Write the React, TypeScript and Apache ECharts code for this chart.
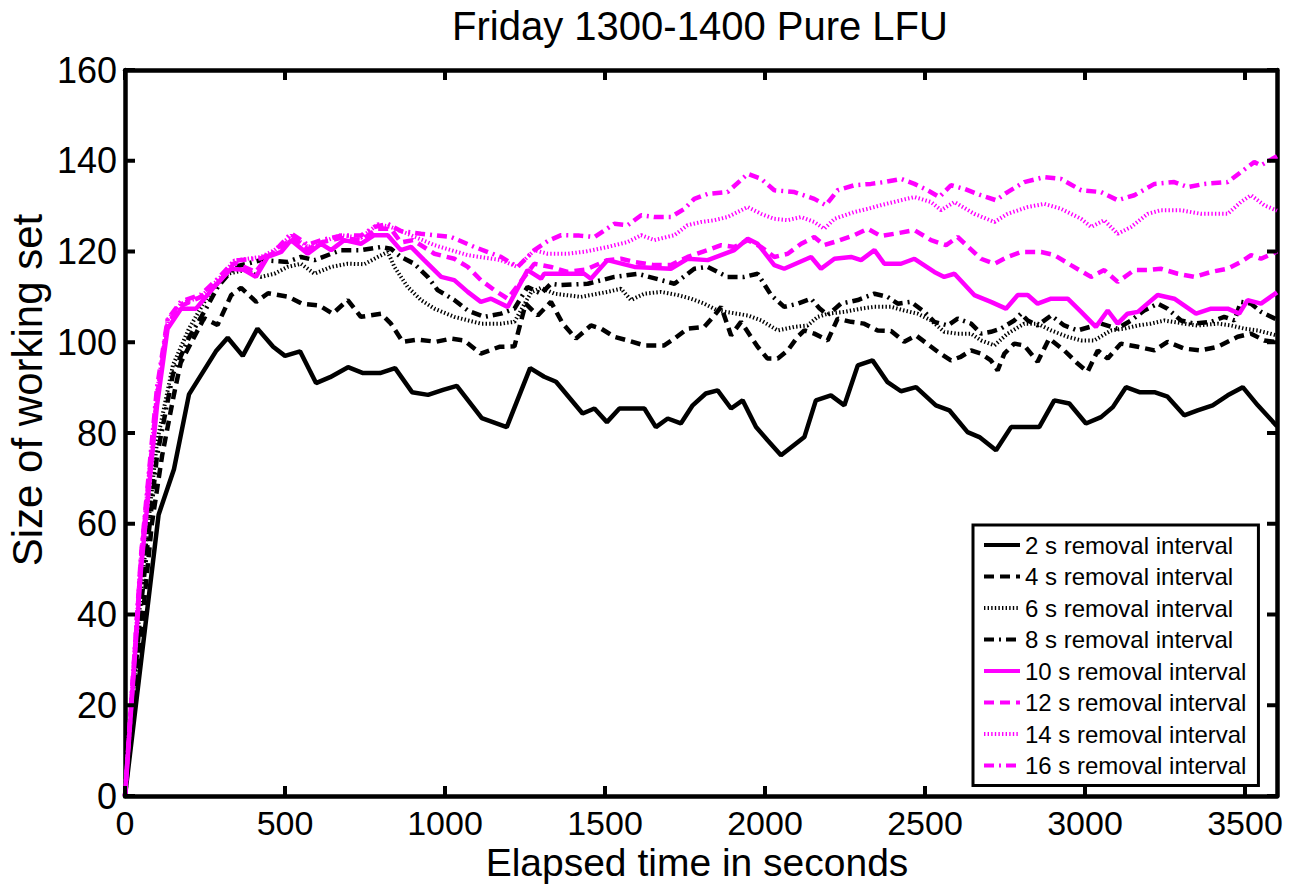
import React, { useEffect, useRef } from "react";
import * as echarts from "echarts";

const FONT = "'Liberation Sans', Arial, Helvetica, sans-serif";

const seriesNames = [
  "2 s removal interval",
  "4 s removal interval",
  "6 s removal interval",
  "8 s removal interval",
  "10 s removal interval",
  "12 s removal interval",
  "14 s removal interval",
  "16 s removal interval",
];

const xTicks = [0, 500, 1000, 1500, 2000, 2500, 3000, 3500];
const yTicks = [0, 20, 40, 60, 80, 100, 120, 140, 160];
const X_MAX = 3600;
const Y_MAX = 160;

const s2 = [[0,0],[105,62],[153,72],[200,88.5],[284,98],[321,101],[368,97],[414,103],[463,99],[500,97],[547,98],[597,91],[641,92.3],[697,94.5],[744,93.2],[797,93.2],[844,94.3],[897,89],[947,88.4],[994,89.5],[1037,90.4],[1115,83.3],[1193,81.3],[1266,94.3],[1310,92.4],[1347,91.3],[1430,84.3],[1467,85.4],[1506,82.4],[1545,85.4],[1623,85.4],[1659,81.3],[1696,83.2],[1737,82.1],[1774,86.1],[1815,88.7],[1852,89.4],[1894,85.4],[1930,87.2],[1972,81.3],[2008,78.4],[2050,75.1],[2123,79.1],[2159,87.2],[2206,88.3],[2248,86.1],[2290,94.9],[2336,96],[2383,91.2],[2425,89.2],[2472,90.1],[2534,86.1],[2576,85],[2633,80.2],[2670,79.1],[2722,76.2],[2769,81.3],[2857,81.3],[2904,87.2],[2951,86.5],[3003,82.1],[3050,83.5],[3087,85.7],[3128,90.1],[3170,89],[3217,89],[3258,88],[3310,83.9],[3352,85],[3399,86.1],[3446,88.3],[3493,90.1],[3540,86.1],[3600,81.5]];

const s4 = [[0,0],[84,60],[116,75],[153,88.5],[174,95.5],[247,105.3],[289,103.8],[332,110.4],[363,112],[410,108.9],[447,110.8],[511,110],[553,108.5],[607,108.1],[649,106.3],[696,109.3],[737,105.6],[800,106.3],[831,104.1],[868,100.1],[915,100.6],[972,100.1],[1019,100.8],[1060,100.4],[1112,97.5],[1170,99],[1217,99.1],[1252,108.5],[1290,105.9],[1331,108.9],[1368,104.1],[1409,100.8],[1456,103.7],[1488,103],[1529,101.2],[1571,100.4],[1623,99.3],[1685,99.3],[1717,100.8],[1758,103],[1810,103.4],[1842,105.9],[1863,107.8],[1894,101.5],[1925,104.5],[1977,99],[2008,96.4],[2040,96.4],[2071,98.2],[2102,101.2],[2123,102.6],[2154,101.9],[2196,100.4],[2227,105.2],[2269,104.5],[2310,104.1],[2352,102.6],[2394,102.5],[2435,100.1],[2472,101.5],[2540,97.9],[2581,96],[2612,96.8],[2644,98.2],[2675,97.5],[2706,96],[2727,93.8],[2748,97.5],[2779,99.7],[2810,99.3],[2852,95.7],[2888,100.8],[2935,98.2],[2977,95.3],[3008,93.5],[3040,98.2],[3071,96.4],[3112,99.7],[3165,99],[3217,98.2],[3258,100.1],[3310,98.6],[3362,98.2],[3415,99],[3477,101.2],[3519,101.9],[3560,100.4],[3600,100]];

const s6 = [[0,0],[50,45],[100,78],[150,95],[200,103],[269,111.5],[321,115.1],[373,115.9],[425,114.4],[467,115.1],[508,116.6],[550,117.3],[592,115.1],[644,116.6],[696,117.3],[748,117.2],[790,118.8],[821,119.9],[842,116.6],[883,112.2],[925,109.3],[967,107.4],[1029,105.6],[1112,104.1],[1175,104.1],[1217,104.5],[1269,111],[1300,112],[1342,110.7],[1425,110],[1508,111.1],[1550,111.8],[1581,109.3],[1623,110.7],[1675,111.1],[1727,110.4],[1769,109.6],[1810,108.5],[1852,107],[1946,105.9],[1988,104.8],[2040,102.6],[2092,103.4],[2133,103.7],[2165,105.6],[2196,106.3],[2248,106.7],[2300,107.4],[2342,107.8],[2394,107.8],[2435,107],[2477,106.3],[2519,104.8],[2560,102.3],[2602,101.9],[2644,101.9],[2675,100.4],[2717,99.3],[2758,101.9],[2810,104.1],[2852,104.1],[2894,102.6],[2946,101.2],[2988,100.4],[3029,100.4],[3081,102.6],[3123,103],[3165,103.7],[3206,104.1],[3248,104.8],[3310,104.1],[3352,103.7],[3415,104.1],[3456,103.7],[3498,103],[3540,102.6],[3600,101.5]];

const s8 = [[0,0],[50,42],[100,75],[150,93],[200,101],[250,107],[290,112.2],[342,116.6],[425,118.1],[508,117.7],[550,118.8],[592,118.1],[675,120.3],[737,120.3],[800,121],[831,120.6],[862,118.8],[904,117.3],[946,114.4],[977,111.5],[1029,109.3],[1071,107],[1123,105.6],[1175,106.3],[1217,107.4],[1258,112.2],[1300,110.7],[1331,112.9],[1363,112.6],[1446,112.9],[1529,114.4],[1602,115.1],[1675,113.7],[1717,112.9],[1779,116.2],[1821,116.6],[1883,114.4],[1935,114.4],[1977,115.1],[2019,110.4],[2060,107.8],[2102,108.5],[2144,109.6],[2170,107.5],[2196,106],[2237,108.5],[2290,109.3],[2342,110.7],[2383,110],[2415,108.5],[2456,108.9],[2498,106.7],[2529,104.5],[2571,103.7],[2602,105.2],[2644,104.1],[2675,101.9],[2706,102.3],[2737,103],[2779,104.8],[2800,106.3],[2821,104.8],[2852,103.7],[2894,105.9],[2935,103.7],[2977,102.6],[3050,104.1],[3100,103],[3144,104.8],[3185,107],[3227,108.5],[3258,107.4],[3300,104.8],[3342,104.1],[3394,104.5],[3435,105.6],[3467,104.8],[3487,108.9],[3519,108.5],[3550,106.7],[3600,105]];

const s10 = [[0,0],[50,50],[100,86],[133,103],[175,107.4],[222,107.4],[279,112.2],[331,116.2],[370,116],[409,114.4],[446,118.8],[488,119.9],[519,122.5],[571,119.5],[613,121.7],[644,120.3],[685,122.5],[737,121.7],[779,123.6],[821,123.6],[862,120.3],[894,121],[935,118.1],[988,114.4],[1029,113.7],[1071,111.1],[1112,108.9],[1144,109.6],[1196,107.8],[1258,115.9],[1300,114],[1310,115.1],[1435,115.1],[1456,114],[1508,118.1],[1592,116.6],[1706,116.2],[1758,118.4],[1821,118.1],[1904,120.3],[1946,122.8],[1977,121.7],[2029,117],[2060,116.2],[2144,118.8],[2175,116.2],[2217,118.4],[2269,118.8],[2300,118.1],[2342,120.3],[2373,117.3],[2425,117.3],[2467,118.4],[2529,115.5],[2560,114.4],[2592,115.1],[2654,110.4],[2706,108.9],[2753,107.4],[2790,110.4],[2821,110.4],[2852,108.5],[2894,109.6],[2946,109.6],[2988,106.7],[3034,103.4],[3071,107],[3102,104.1],[3133,106.3],[3165,106.7],[3227,110.4],[3279,109.6],[3347,106.3],[3394,107.4],[3446,107.4],[3482,106.3],[3508,109.3],[3550,108.5],[3600,111]];

const s12 = [[0,0],[50,52],[100,88],[133,104],[175,108],[237,110],[290,113],[342,117.5],[409,115.5],[446,119],[488,120.5],[519,123],[571,120.5],[613,122],[675,123],[737,122.5],[790,125],[831,125],[862,122],[900,122.5],[967,119.5],[1029,118.4],[1071,116.6],[1112,113.7],[1154,111.5],[1196,109.6],[1248,114.4],[1279,117.3],[1331,116.6],[1383,115.5],[1440,116],[1508,118.1],[1550,118.4],[1592,117.7],[1654,117],[1706,117],[1758,118.8],[1821,120.3],[1863,121.4],[1904,121],[1946,122.5],[1988,121],[2029,118.8],[2071,119.5],[2113,121.7],[2154,123.2],[2185,121.4],[2217,122.1],[2279,123.6],[2321,125],[2362,123.4],[2404,123.9],[2467,124.7],[2519,122.5],[2566,121.4],[2602,123.2],[2675,118.4],[2717,117.3],[2758,118.8],[2800,119.9],[2863,119.9],[2904,119.2],[2956,117],[3019,114.4],[3060,115.9],[3102,113.3],[3154,115.9],[3196,115.9],[3237,116.2],[3290,115.1],[3342,114.4],[3394,115.5],[3446,116.2],[3487,117.7],[3519,119.2],[3550,118.4],[3600,120]];

const s14 = [[0,0],[50,53],[100,89],[133,105],[175,108.5],[237,110],[290,113.7],[342,118],[425,118.8],[467,120.3],[519,123.5],[571,121],[613,122],[675,123.6],[737,123],[790,126],[831,125.4],[880,124],[967,121.4],[1071,119.2],[1175,118.1],[1227,116.6],[1279,120.3],[1321,119.5],[1383,119.5],[1440,120],[1508,121],[1571,122.1],[1613,123.6],[1654,122.5],[1717,123.6],[1758,125.8],[1800,126.5],[1842,126.9],[1883,127.6],[1946,129.8],[1988,128.3],[2029,127.2],[2071,126.9],[2113,127.6],[2154,126.5],[2185,125],[2217,127.2],[2279,128.7],[2321,129.4],[2362,130.2],[2425,131.3],[2467,132],[2519,130.9],[2550,129.1],[2592,130.9],[2654,128.3],[2717,126.5],[2758,128.3],[2821,129.8],[2873,130.5],[2925,129.4],[2988,127.2],[3019,125.4],[3060,126.9],[3102,123.9],[3144,125.4],[3196,128.3],[3237,129.1],[3300,129.1],[3362,128.3],[3446,128.3],[3487,130.9],[3519,132.4],[3560,130.2],[3600,129]];

const s16 = [[0,0],[50,53],[100,90],[133,105],[175,109],[237,110.5],[290,114],[342,118],[425,118.5],[467,120],[519,124],[571,121.5],[613,122.5],[675,123.5],[737,123.5],[779,125.4],[821,126.1],[862,124.5],[925,123.9],[1019,123.2],[1092,121],[1175,118.8],[1227,116.6],[1279,120.3],[1321,122.3],[1363,123.6],[1420,123.5],[1467,123.2],[1529,126.1],[1571,125.8],[1613,128],[1654,127.6],[1706,127.6],[1748,129.4],[1779,131.6],[1821,132.7],[1883,133.1],[1946,137.1],[1988,136],[2029,133.5],[2092,133.1],[2154,131.6],[2190,130.2],[2227,133.5],[2279,134.6],[2331,134.9],[2373,135.3],[2425,136],[2467,134.9],[2508,133.5],[2545,132],[2581,134.6],[2623,133.8],[2675,132.4],[2722,131.3],[2758,133.1],[2810,135.3],[2873,136.4],[2925,136],[2988,133.5],[3050,133.1],[3102,131.3],[3154,132.4],[3217,134.9],[3279,135.3],[3321,134.2],[3373,134.9],[3446,135.3],[3487,137.5],[3529,139.7],[3550,139],[3600,141]];

const seriesData = [s2, s4, s6, s8, s10, s12, s14, s16];
const seriesColors = ["#000000","#000000","#000000","#000000","#ff00ff","#ff00ff","#ff00ff","#ff00ff"];
const seriesDash: any[] = ["solid", [10, 6], [1.4, 2.2], [10, 5, 2, 5], "solid", [10, 6], [1.4, 2.2], [10, 5, 2, 5]];
const seriesWidth = [4.5, 4.5, 4, 4.5, 4.5, 4.5, 4, 4.5];

const TICK_LEN = 10;

function makeLine() {
  return { show: true, onZero: false, lineStyle: { color: "#000", width: 4.5 } };
}

export default function App() {
  const ref = useRef<HTMLDivElement>(null);
  useEffect(() => {
    if (!ref.current) return;
    const chart = echarts.init(ref.current, undefined, { renderer: "svg" });
    const tickStyle = { stroke: "#000", lineWidth: 4 };
    const option: any = {
      animation: false,
      backgroundColor: "#fff",
      grid: { left: 125, right: 24, top: 70, bottom: 90, containLabel: false, outerBoundsMode: "none" },
      xAxis: [
        {
          type: "value", min: 0, max: X_MAX, interval: 500, position: "bottom",
          axisLine: makeLine(), axisTick: { show: false }, splitLine: { show: false },
          axisLabel: {
            color: "#000", fontSize: 34, fontFamily: FONT, margin: 10,
            formatter: (v: number) => (xTicks.includes(v) ? String(v) : ""),
          },
        },
        {
          type: "value", min: 0, max: X_MAX, interval: 500, position: "top",
          axisLine: makeLine(), axisTick: { show: false }, splitLine: { show: false }, axisLabel: { show: false },
        },
      ],
      yAxis: [
        {
          type: "value", min: 0, max: Y_MAX, interval: 20, position: "left",
          axisLine: makeLine(), axisTick: { show: false }, splitLine: { show: false },
          axisLabel: {
            color: "#000", fontSize: 36, fontFamily: FONT, margin: 8,
            formatter: (v: number) => (yTicks.includes(v) ? String(v) : ""),
          },
        },
        {
          type: "value", min: 0, max: Y_MAX, interval: 20, position: "right",
          axisLine: makeLine(), axisTick: { show: false }, splitLine: { show: false }, axisLabel: { show: false },
        },
      ],
      legend: {
        orient: "vertical", left: 973, top: 525,
        itemWidth: 36, itemHeight: 14, itemGap: 7.5,
        padding: [8, 12, 8, 9],
        borderColor: "#000", borderWidth: 3, backgroundColor: "#fff",
        itemStyle: { opacity: 0 },
        lineStyle: { width: 4 },
        textStyle: { fontSize: 24, fontFamily: FONT, color: "#000", lineHeight: 24 },
        data: seriesNames,
      },
      graphic: [
        { type: "text", x: 700, y: 26, style: { text: "Friday 1300-1400 Pure LFU", fontSize: 40, fontFamily: FONT, fill: "#000", align: "center", verticalAlign: "middle" } },
        { type: "text", x: 697, y: 862, style: { text: "Elapsed time in seconds", fontSize: 39, fontFamily: FONT, fill: "#000", align: "center", verticalAlign: "middle" } },
        { type: "text", x: 27, y: 390, rotation: Math.PI / 2, style: { text: "Size of working set", fontSize: 42, fontFamily: FONT, fill: "#000", align: "center", verticalAlign: "middle" } },
      ],
      series: [
        ...seriesData.map((d, i) => ({
          name: seriesNames[i],
          type: "line",
          data: d,
          symbol: "none",
          showSymbol: false,
          clip: true,
          lineStyle: { color: seriesColors[i], width: seriesWidth[i], type: seriesDash[i], cap: "butt" },
          itemStyle: { color: seriesColors[i] },
          z: 2,
        })),
        {
          name: "xTickMarks",
          type: "custom",
          silent: true,
          clip: false,
          z: 5,
          data: xTicks.map((v) => [v, 0]),
          renderItem: (params: any, api: any) => {
            const v = api.value(0);
            const b = api.coord([v, 0]);
            const t = api.coord([v, Y_MAX]);
            return {
              type: "group",
              children: [
                { type: "line", shape: { x1: b[0], y1: b[1], x2: b[0], y2: b[1] - TICK_LEN }, style: tickStyle },
                { type: "line", shape: { x1: t[0], y1: t[1], x2: t[0], y2: t[1] + TICK_LEN }, style: tickStyle },
              ],
            };
          },
        },
        {
          name: "yTickMarks",
          type: "custom",
          silent: true,
          clip: false,
          z: 5,
          data: yTicks.map((v) => [0, v]),
          renderItem: (params: any, api: any) => {
            const v = api.value(1);
            const l = api.coord([0, v]);
            const r = api.coord([X_MAX, v]);
            return {
              type: "group",
              children: [
                { type: "line", shape: { x1: l[0], y1: l[1], x2: l[0] + TICK_LEN, y2: l[1] }, style: tickStyle },
                { type: "line", shape: { x1: r[0], y1: r[1], x2: r[0] - TICK_LEN, y2: r[1] }, style: tickStyle },
              ],
            };
          },
        },
      ],
    };
    chart.setOption(option);
    return () => chart.dispose();
  }, []);
  return <div ref={ref} style={{ position: "fixed", left: 0, top: 0, width: 1301, height: 886 }} />;
}
